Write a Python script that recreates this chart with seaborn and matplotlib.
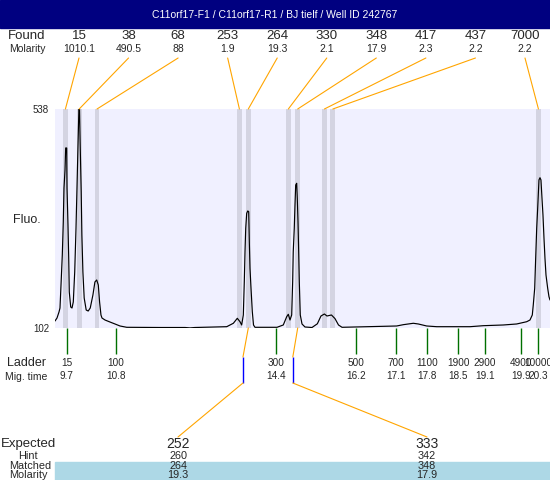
import numpy as np
import pandas as pd
import seaborn as sns
import matplotlib.pyplot as plt
from matplotlib.patches import Rectangle

# electropherogram trace: migration time (s) and fluorescence
trace_time = [9.436, 9.481, 9.526, 9.548, 9.571, 9.600, 9.622, 9.638, 9.661, 9.676,
              9.699, 9.706, 9.728, 9.744, 9.757, 9.789, 9.818, 9.847, 9.879, 9.908,
              9.930, 9.953, 9.973, 9.987, 10.002, 10.025, 10.040, 10.063, 10.092, 10.137,
              10.182, 10.228, 10.288, 10.333, 10.373, 10.409, 10.438, 10.469, 10.492, 10.560,
              10.672, 10.784, 10.897, 11.048, 11.800, 12.360, 12.470, 12.580, 13.295, 13.444,
              13.533, 13.593, 13.631, 13.668, 13.690, 13.706, 13.722, 13.744, 13.767, 13.789,
              13.803, 13.818, 13.841, 13.870, 13.897, 13.930, 14.425, 14.566, 14.643, 14.679,
              14.717, 14.755, 14.777, 14.790, 14.813, 14.829, 14.845, 14.867, 14.881, 14.897,
              14.912, 14.926, 14.948, 14.987, 15.054, 15.211, 15.332, 15.413, 15.490, 15.548,
              15.649, 15.728, 15.807, 15.886, 17.114, 17.263, 17.488, 17.600, 17.789, 18.014,
              18.762, 19.061, 19.510, 19.811, 20.036, 20.110, 20.162, 20.184, 20.216, 20.238,
              20.261, 20.283, 20.312, 20.335, 20.357, 20.380, 20.402, 20.425, 20.447, 20.470,
              20.508, 20.537, 20.560]
trace_fluo = [115.9, 121.9, 133.9, 141.8, 187.6, 247.3, 313.0, 380.7, 416.6, 460.4,
              460.4, 380.7, 307.1, 241.4, 173.7, 143.8, 141.8, 153.8, 213.5, 301.1,
              380.7, 466.4, 538.0, 538.0, 466.4, 372.8, 287.2, 213.5, 161.7, 137.8,
              135.8, 141.8, 167.7, 193.6, 197.6, 187.6, 153.8, 127.9, 121.9, 117.9,
              113.9, 110.0, 106.0, 103.4, 103.0, 103.0, 102.2, 103.0, 104.6, 111.4,
              121.3, 114.5, 108.0, 127.9, 194.2, 253.9, 300.5, 330.4, 335.0, 333.6,
              273.8, 220.9, 181.0, 134.5, 108.0, 103.4, 103.4, 108.0, 124.5, 129.3,
              117.9, 127.9, 194.2, 253.9, 300.5, 346.9, 386.7, 390.1, 360.2, 313.6,
              253.9, 194.2, 127.9, 110.0, 104.0, 103.0, 110.4, 125.9, 129.9, 125.9,
              127.9, 120.7, 108.0, 103.4, 106.0, 108.6, 111.4, 110.0, 106.0, 104.6,
              104.6, 106.6, 108.0, 110.0, 114.5, 117.9, 127.9, 147.8, 181.0, 240.8,
              300.5, 340.3, 396.7, 401.2, 396.7, 360.2, 327.0, 280.6, 240.8, 207.5,
              181.0, 164.3, 157.7]

# found peaks
found_size = ['15', '38', '68', '253', '264', '330', '348', '417', '437', '7000']
found_molarity = ['1010.1', '490.5', '88', '1.9', '19.3', '2.1', '17.9', '2.3', '2.2', '2.2']
found_time = [9.67, 9.98, 10.38, 13.58, 13.78, 14.68, 14.89, 15.49, 15.68, 20.30]

# ladder
ladder_size = ['15', '100', '300', '500', '700', '1100', '1900', '2900', '4900', '10000']
ladder_time = [9.7, 10.8, 14.4, 16.2, 17.1, 17.8, 18.5, 19.1, 19.9, 20.3]

# expected / matched table
expected_size = ['252', '333']
hint_size = ['260', '342']
matched_size = ['264', '348']
matched_molarity = ['19.3', '17.9']
matched_time = [13.78, 14.89]
hint_time = [13.66, 14.78]

title = 'C11orf17-F1 / C11orf17-R1 / BJ tielf / Well ID 242767'

W, H = 550, 480


def fx(px):
    return px / W


def fy(py):
    return 1 - py / H


sns.set_style('white')
plt.rcParams['font.family'] = ['Liberation Sans', 'DejaVu Sans']

fig = plt.figure(figsize=(5.5, 4.8), dpi=100)

# title bar
fig.patches.append(Rectangle((0, fy(28)), 1, 28 / H, transform=fig.transFigure,
                             color='#000080', zorder=0))
fig.text(fx(275), fy(15), title, color='white', ha='center', va='center', fontsize=7.5)

# main trace axes
ax = fig.add_axes([fx(55), fy(328), 495 / W, 219 / H])
ax.set_facecolor('#F0F0FF')
for t in found_time:
    ax.axvspan(t - 0.056, t + 0.056, color='#D4D4E2', lw=0)

df = pd.DataFrame({'time': trace_time, 'fluo': trace_fluo})
sns.lineplot(data=df, x='time', y='fluo', ax=ax, color='black', lw=0.85,
             estimator=None, sort=False)
ax.set_xlim(9.436, 20.56)
ax.set_ylim(102, 538)
for s in ax.spines.values():
    s.set_visible(False)
ax.set_xlabel('')
ax.set_ylabel('')
ax.grid(False)

ax.set_yticks([102, 538])
ax.set_yticklabels(['102', '538'], fontsize=7)
ax.tick_params(axis='y', left=False, length=0, pad=4.3)

ax.set_xticks(ladder_time)
ax.set_xticklabels([f'{s}\n{t}' for s, t in zip(ladder_size, ladder_time)],
                   fontsize=7.2, linespacing=1.35)
ax.tick_params(axis='x', bottom=True, length=18.7, width=1, color='#007000',
               direction='out', pad=3.2)

xt = ax.get_xaxis_transform()
orange = dict(arrowstyle='-', color='#FFA500', lw=0.8, shrinkA=0, shrinkB=0)

# found labels and connectors
label_x = np.linspace(79, 525, len(found_size))
for lx, s, m, t in zip(label_x, found_size, found_molarity, found_time):
    fig.text(fx(lx), fy(36), s, ha='center', va='center', fontsize=9.5)
    fig.text(fx(lx), fy(48.5), m, ha='center', va='center', fontsize=7.5)
    ax.annotate('', xy=(t, 1), xycoords=xt, xytext=(fx(lx), fy(58)),
                textcoords='figure fraction', arrowprops=orange, annotation_clip=False)

# left labels
fig.text(fx(27), fy(36), 'Found', ha='center', va='center', fontsize=9.5)
fig.text(fx(27), fy(48.5), 'Molarity', ha='center', va='center', fontsize=7.5)
fig.text(fx(26.5), fy(220), 'Fluo.', ha='center', va='center', fontsize=9)
fig.text(fx(27), fy(363), 'Ladder', ha='center', va='center', fontsize=9)
fig.text(fx(26), fy(377), 'Mig. time', ha='center', va='center', fontsize=7.5)

# expected table
fig.patches.append(Rectangle((fx(55), 0), 495 / W, 18 / H, transform=fig.transFigure,
                             color='#ADD8E6', zorder=0))
fig.text(fx(1), fy(444), 'Expected', ha='left', va='center', fontsize=9.5)
fig.text(fx(28), fy(456), 'Hint', ha='center', va='center', fontsize=7.8)
fig.text(fx(30), fy(466), 'Matched', ha='center', va='center', fontsize=7.8)
fig.text(fx(28), fy(475), 'Molarity', ha='center', va='center', fontsize=7.8)

y_top = -(357 - 328) / 219
y_bot = -(383 - 328) / 219
col_x = [178, 427]
for cx, mt, ht, e, h, m, mol in zip(col_x, matched_time, hint_time, expected_size,
                                     hint_size, matched_size, matched_molarity):
    ax.annotate('', xy=(ht, y_top), xycoords=xt, xytext=(mt, 0), textcoords=xt,
                arrowprops=orange, annotation_clip=False)
    ax.vlines(ht, y_bot, y_top, transform=xt, color='#0000FF', lw=1, clip_on=False)
    ax.annotate('', xy=(fx(cx), fy(437)), xycoords='figure fraction',
                xytext=(ht, y_bot), textcoords=xt, arrowprops=orange,
                annotation_clip=False)
    fig.text(fx(cx), fy(444), e, ha='center', va='center', fontsize=10)
    fig.text(fx(cx), fy(456), h, ha='center', va='center', fontsize=7.8)
    fig.text(fx(cx), fy(466), m, ha='center', va='center', fontsize=7.8)
    fig.text(fx(cx), fy(475), mol, ha='center', va='center', fontsize=7.8)

fig.savefig('out.png', dpi=100)
